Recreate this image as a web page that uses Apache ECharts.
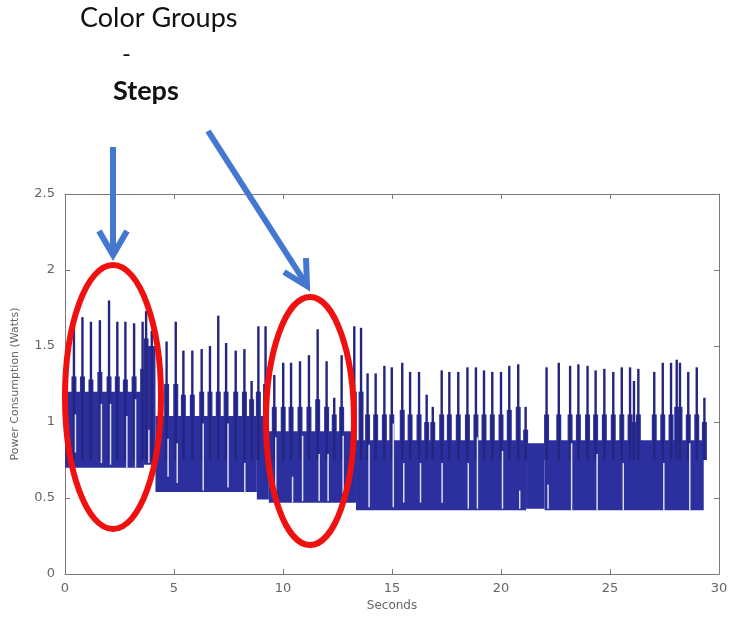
<!DOCTYPE html>
<html>
<head>
<meta charset="utf-8">
<script src="https://cdn.jsdelivr.net/npm/echarts@6/dist/echarts.min.js"></script>
<style>html,body{margin:0;padding:0;background:#fff;}#c{width:734px;height:617px;}</style>
</head>
<body>
<div id="c"></div>
<script>
// ---- data ----
const xTicks = [0, 5, 10, 15, 20, 25, 30];
const yTicks = [0, 0.5, 1, 1.5, 2, 2.5];

// dense band of the trace: start time, end time, low level, high level
const bandStart = [0.00, 3.62, 4.15, 8.80, 9.35, 13.35, 21.15, 22.00];
const bandEnd   = [3.62, 4.15, 8.80, 9.35, 13.35, 21.15, 22.00, 29.30];
const bandLow   = [0.70, 0.72, 0.54, 0.49, 0.47, 0.42, 0.43, 0.42];
const bandHigh  = [1.20, 1.50, 1.04, 1.04, 0.94, 0.88, 0.86, 0.88];

// upward spikes: time, peak value, shoulder value
const spikeTime = [0.41,0.80,1.19,1.60,2.02,2.40,2.77,3.17,3.56,3.72,3.98,
  4.66,5.08,5.43,5.84,6.27,6.65,7.03,7.39,7.83,8.23,8.56,8.87,9.20,
  9.60,10.01,10.37,10.78,11.19,11.59,12.00,12.35,12.69,13.27,13.58,
  13.88,14.25,14.65,14.99,15.47,15.83,16.24,16.59,16.87,17.28,17.63,18.04,18.46,18.85,19.22,19.60,20.00,20.38,20.79,21.13,
  22.09,22.65,23.17,23.55,23.97,24.34,24.74,25.15,25.54,25.92,26.10,26.30,27.03,27.42,27.80,28.06,28.21,28.59,28.98,29.33];
const spikePeak = [1.63,1.69,1.66,1.67,1.80,1.66,1.66,1.65,1.66,1.73,1.60,
  1.53,1.66,1.47,1.47,1.48,1.50,1.70,1.52,1.47,1.48,1.27,1.63,1.63,
  1.31,1.39,1.39,1.40,1.44,1.61,1.40,1.16,1.44,1.63,1.62,
  1.32,1.32,1.37,1.36,1.39,1.33,1.33,1.18,1.10,1.34,1.33,1.33,1.36,1.36,1.34,1.33,1.33,1.37,1.38,1.10,
  1.36,1.39,1.37,1.38,1.37,1.34,1.35,1.33,1.36,1.36,1.27,1.35,1.33,1.39,1.39,1.41,1.39,1.33,1.36,1.16];
const spikeShoulder = [1.30,1.30,1.28,1.33,1.30,1.30,1.28,1.30,1.35,1.55,1.40,
  1.25,1.25,1.18,1.18,1.20,1.20,1.20,1.20,1.20,1.20,1.15,1.20,1.25,
  1.10,1.10,1.10,1.10,1.10,1.15,1.10,1.05,1.10,1.20,1.20,
  1.05,1.05,1.05,1.05,1.08,1.05,1.05,1.00,1.00,1.05,1.05,1.05,1.05,1.05,1.05,1.05,1.05,1.08,1.10,0.95,
  1.05,1.05,1.05,1.05,1.05,1.05,1.05,1.05,1.05,1.05,1.00,1.05,1.05,1.05,1.05,1.10,1.10,1.05,1.05,1.00];

// light downward dips inside the band: time, top value, bottom value
const dipTime   = [0.41,1.60,2.02,2.77,3.17,3.78,4.66,5.08,6.27,7.41,8.18,9.60,10.37,10.83,11.59,12.00,12.69,13.88,14.99,15.47,16.24,17.23,18.43,18.85,20.00,20.79,22.09,23.17,24.34,25.54,27.40,28.59];
const dipTop    = [1.05,1.12,1.12,1.04,1.15,0.95,0.89,0.86,0.99,0.99,0.73,0.90,0.64,0.91,0.79,0.79,0.91,0.85,0.99,0.73,0.73,0.73,0.73,0.90,0.81,0.55,0.59,0.86,0.79,0.73,0.73,0.86];
const dipBottom = [0.80,0.73,0.72,0.69,0.70,0.73,0.64,0.60,0.55,0.57,0.53,0.55,0.47,0.48,0.48,0.48,0.53,0.44,0.44,0.47,0.47,0.47,0.43,0.43,0.43,0.43,0.43,0.42,0.42,0.42,0.42,0.42];

// ---- build ----
const bandData = bandStart.map((s, i) => [s, bandEnd[i], bandLow[i], bandHigh[i]]);
const spikeData = spikeTime.map((t, i) => [t, spikePeak[i], spikeShoulder[i]]);
const dipData = dipTime.map((t, i) => [t, dipTop[i], dipBottom[i]]);

const BLUE = '#2c2f9e';
const AX = '#7a7a7a';
const LBL = '#666';

const chart = echarts.init(document.getElementById('c'), null, {renderer: 'canvas'});
const axisCommon = () => ({
  axisLine: {show: true, onZero: false, lineStyle: {color: AX, width: 1}},
  axisTick: {show: true, inside: true, length: 5, lineStyle: {color: AX}},
  splitLine: {show: false}
});
chart.setOption({
  animation: false,
  backgroundColor: '#fff',
  grid: {left: 65, top: 194, right: 15, bottom: 39, containLabel: false},
  xAxis: [
    Object.assign({type: 'value', min: 0, max: 30, interval: 5, position: 'bottom',
      name: 'Seconds', nameLocation: 'middle', nameGap: 22,
      nameTextStyle: {color: LBL, fontFamily: 'DejaVu Sans', fontSize: 12},
      axisLabel: {color: LBL, fontFamily: 'DejaVu Sans', fontSize: 13, margin: 8}}, axisCommon()),
    Object.assign({type: 'value', min: 0, max: 30, interval: 5, position: 'top',
      axisLabel: {show: false}}, axisCommon())
  ],
  yAxis: [
    Object.assign({type: 'value', min: 0, max: 2.5, interval: 0.5, position: 'left',
      name: 'Power Consumption (Watts)', nameLocation: 'middle', nameGap: 44, nameRotate: 90,
      nameTextStyle: {color: LBL, fontFamily: 'DejaVu Sans', fontSize: 11},
      axisLabel: {color: LBL, fontFamily: 'DejaVu Sans', fontSize: 13, margin: 10,
        formatter: v => yTicks.includes(v) ? String(v) : ''}}, axisCommon()),
    Object.assign({type: 'value', min: 0, max: 2.5, interval: 0.5, position: 'right',
      axisLabel: {show: false}}, axisCommon())
  ],
  series: [
    {
      type: 'custom', name: 'band', data: bandData, clip: true,
      encode: {x: [0, 1], y: [2, 3]},
      renderItem: (params, api) => {
        const p1 = api.coord([api.value(0), api.value(3)]);
        const p2 = api.coord([api.value(1), api.value(2)]);
        return {type: 'rect', shape: {x: p1[0], y: p1[1], width: p2[0] - p1[0], height: p2[1] - p1[1]},
          style: {fill: BLUE}};
      }
    },
    {
      type: 'custom', name: 'spikes', data: spikeData, clip: true,
      encode: {x: 0, y: [1, 2]},
      renderItem: (params, api) => {
        const top = api.coord([api.value(0), api.value(1)]);
        const sh = api.coord([api.value(0), api.value(2)]);
        const base = api.coord([api.value(0), 0.75]);
        return {type: 'group', children: [
          {type: 'rect', shape: {x: sh[0] - 2.5, y: sh[1], width: 5, height: base[1] - sh[1]}, style: {fill: BLUE}},
          {type: 'line', shape: {x1: top[0], y1: top[1], x2: base[0], y2: base[1]}, style: {stroke: '#23257f', lineWidth: 2.4}}
        ]};
      }
    },
    {
      type: 'custom', name: 'dips', data: dipData, clip: true,
      encode: {x: 0, y: [1, 2]},
      renderItem: (params, api) => {
        const a = api.coord([api.value(0), api.value(1)]);
        const b = api.coord([api.value(0), api.value(2)]);
        return {type: 'line', shape: {x1: a[0] + 1.5, y1: a[1], x2: b[0] + 1.5, y2: b[1]},
          style: {stroke: '#dcdaee', lineWidth: 1.5}};
      }
    }
  ],
  graphic: [
    {type: 'text', left: 80, top: 5, style: {text: 'Color Groups', font: '27px Lato', fill: '#111'}},
    {type: 'text', left: 122, top: 42, style: {text: '-', font: '24px Lato', fill: '#111'}},
    {type: 'text', left: 113, top: 78, style: {text: 'Steps', font: 'bold 27px Lato', fill: '#111'}},
    {type: 'polyline', shape: {points: [[113, 147], [113, 252]]}, style: {stroke: '#4377d0', lineWidth: 6}, z: 100},
    {type: 'polyline', shape: {points: [[99, 231], [113, 255], [127, 231]]}, style: {stroke: '#4377d0', lineWidth: 6, lineJoin: 'miter'}, z: 100},
    {type: 'polyline', shape: {points: [[208, 131], [306, 284]]}, style: {stroke: '#4377d0', lineWidth: 6}, z: 100},
    {type: 'polyline', shape: {points: [[284, 272], [307, 286], [306, 258]]}, style: {stroke: '#4377d0', lineWidth: 6, lineJoin: 'miter'}, z: 100},
    {type: 'ellipse', shape: {cx: 113, cy: 397, rx: 48, ry: 132}, style: {stroke: '#f01010', lineWidth: 6, fill: null}, z: 100},
    {type: 'ellipse', shape: {cx: 310, cy: 421, rx: 44, ry: 124}, style: {stroke: '#f01010', lineWidth: 6, fill: null}, z: 100}
  ]
});
</script>
</body>
</html>
